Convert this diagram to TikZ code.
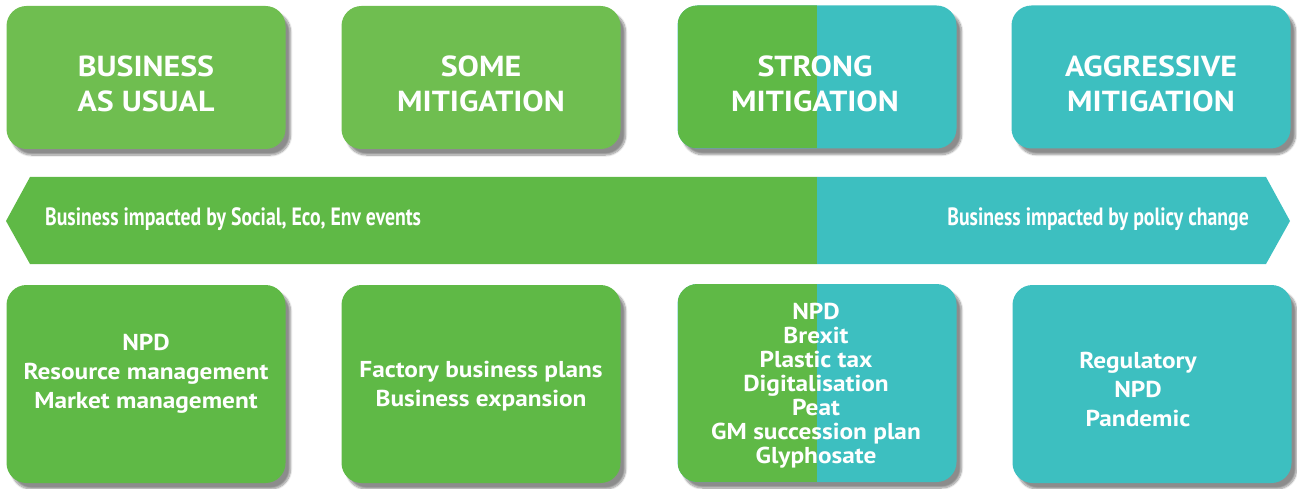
\documentclass[tikz,border=0pt]{standalone}
\usepackage{fontspec}
\setmainfont{PT Sans}[FakeStretch=1.1]
\newfontfamily\bandfont{PT Sans}[FakeStretch=0.79]
\usetikzlibrary{shadows.blur}
\definecolor{lightleaf}{HTML}{6FBE50}
\definecolor{leaf}{HTML}{5FB946}
\definecolor{lagoon}{HTML}{3DBFC0}

\begin{document}
\begin{tikzpicture}[x=1pt,y=-1pt,
  card/.style={rounded corners=20pt,minimum width=279pt,minimum height=143pt,inner sep=0pt,
    blur shadow={shadow xshift=5pt,shadow yshift=-6pt,shadow blur steps=10,shadow opacity=45}},
  listcard/.style={card,minimum height=198pt},
  half/.style={fill=lagoon,path picture={\fill[leaf,sharp corners] (path picture bounding box.north west) rectangle (path picture bounding box.south);}},
  title/.style={text=white,align=center,inner sep=0pt,font=\bfseries\fontsize{29}{35}\selectfont},
  items/.style={text=white,align=center,inner sep=0pt,font=\bfseries\fontsize{23}{29}\selectfont},
  bandtext/.style={text=white,inner sep=0pt,font=\bandfont\bfseries\fontsize{25}{30}\selectfont}]
\useasboundingbox (0,0) rectangle (1297,489);
\node[card,fill=lightleaf] (bau) at (146,77.5) {};
\node[card,fill=lightleaf] (some) at (481,77.5) {};
\node[card,half] (strong) at (817,77) {};
\node[card,fill=lagoon] (aggr) at (1151,77) {};
\node[title] (bau title) at (146,84) {BUSINESS\\AS USUAL};
\node[title] (some title) at (481,84) {SOME\\MITIGATION};
\node[title] (strong title) at (815,84) {STRONG\\MITIGATION};
\node[title] (aggr title) at (1151,84) {AGGRESSIVE\\MITIGATION};

\fill[leaf] (817,177) -- (30,177) -- (6,221) -- (30,264) -- (817,264) -- cycle;
\fill[lagoon] (817,177) -- (1266,177) -- (1290,221) -- (1266,264) -- (817,264) -- cycle;
\node[bandtext,anchor=base west] (social) at (45,225) {Business impacted by Social, Eco, Env events};
\node[bandtext,anchor=base east] (policy) at (1249,225) {Business impacted by policy change};

\node[listcard,fill=leaf] (bau list) at (146,384) {};
\node[listcard,fill=leaf] (some list) at (481,384) {};
\node[listcard,half] (strong list) at (817,383) {};
\node[listcard,fill=lagoon] (aggr list) at (1152,384) {};
\node[items] (bau items) at (146,374) {NPD\\Resource management\\Market management};
\node[items] (some items) at (481,386) {Factory business plans\\Business expansion};
\node[items,font=\bfseries\fontsize{23}{24}\selectfont] (strong items) at (816,386)
  {NPD\\Brexit\\Plastic tax\\Digitalisation\\Peat\\GM succession plan\\Glyphosate};
\node[items] (aggr items) at (1138,389) {Regulatory\\NPD\\Pandemic};
\end{tikzpicture}
\end{document}
